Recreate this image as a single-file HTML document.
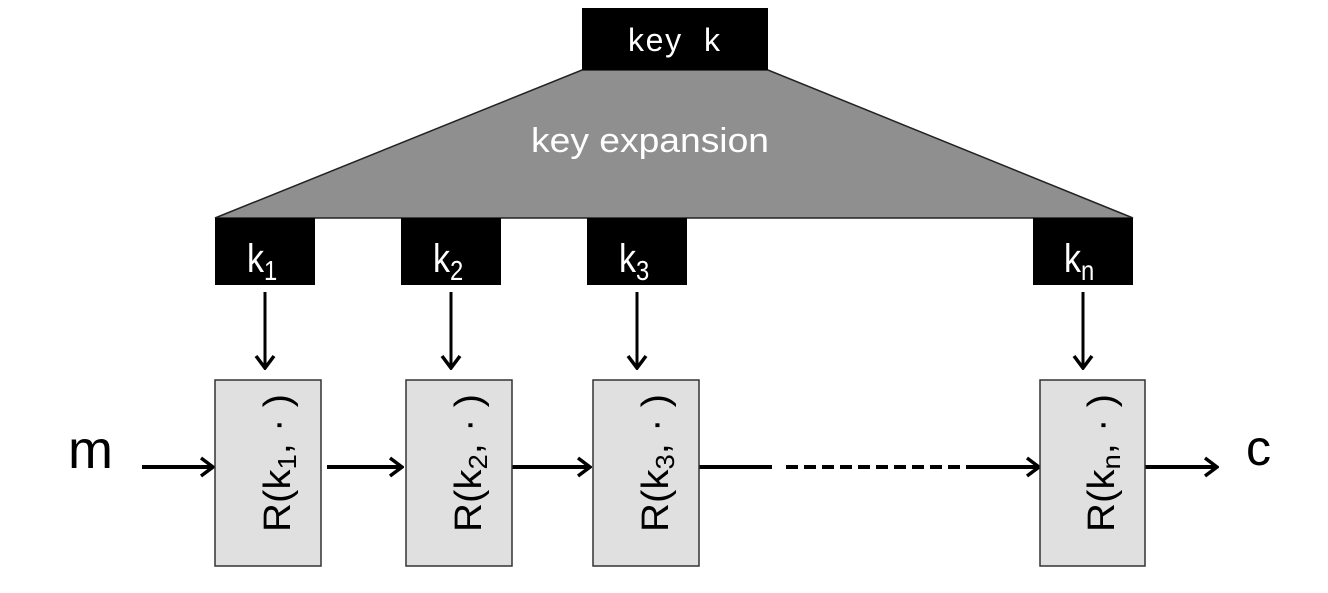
<!DOCTYPE html>
<html><head><style>body{margin:0;background:#fff}</style></head><body>
<svg width="1328" height="588" xmlns="http://www.w3.org/2000/svg" font-family="Liberation Sans, Arial, sans-serif">
<defs><marker id="a" markerWidth="16" markerHeight="22" refX="14" refY="11" orient="auto" markerUnits="userSpaceOnUse"><path d="M2,2 L14,11 L2,20" fill="none" stroke="#000" stroke-width="3.5"/></marker></defs>
<polygon points="582,70 768,70 1133,218 215,218" fill="#8f8f8f" stroke="#222" stroke-width="1.5"/>
<rect x="582" y="8" width="186" height="62" fill="#000"/>
<text x="628" y="51" fill="#fff" font-size="32" textLength="92" lengthAdjust="spacing">key&#160;&#160;k</text>
<text x="650" y="152" fill="#fff" font-size="34" text-anchor="middle" textLength="238" lengthAdjust="spacingAndGlyphs">key expansion</text>
<g fill="#000"><rect x="215" y="218" width="100" height="67"/><rect x="401" y="218" width="100" height="67"/><rect x="587" y="218" width="100" height="67"/><rect x="1033" y="218" width="100" height="67"/></g>
<g fill="#fff" font-size="40">
<text transform="translate(247,272) scale(0.85,1)">k<tspan font-size="28" dy="8">1</tspan></text>
<text transform="translate(433,272) scale(0.85,1)">k<tspan font-size="28" dy="8">2</tspan></text>
<text transform="translate(619,272) scale(0.85,1)">k<tspan font-size="28" dy="8">3</tspan></text>
<text transform="translate(1064,272) scale(0.85,1)">k<tspan font-size="28" dy="8">n</tspan></text>
</g>
<g stroke="#000" stroke-width="3" marker-end="url(#a)">
<line x1="265" y1="292" x2="265" y2="368"/><line x1="451" y1="292" x2="451" y2="368"/><line x1="637" y1="292" x2="637" y2="368"/><line x1="1083" y1="292" x2="1083" y2="368"/>
<line x1="142" y1="467" x2="213" y2="467" stroke-width="4"/>
<line x1="327" y1="467" x2="402" y2="467" stroke-width="4"/>
<line x1="512" y1="467" x2="590" y2="467" stroke-width="4"/>
<line x1="972" y1="467" x2="1039" y2="467" stroke-width="4"/>
<line x1="1145" y1="467" x2="1217" y2="467" stroke-width="4"/>
</g>
<line x1="699" y1="467" x2="772" y2="467" stroke="#000" stroke-width="4"/>
<line x1="786" y1="467" x2="972" y2="467" stroke="#000" stroke-width="4" stroke-dasharray="12,6"/>
<g fill="#e0e0e0" stroke="#333" stroke-width="1.5">
<rect x="215" y="380" width="106" height="186"/><rect x="406" y="380" width="106" height="186"/><rect x="593" y="380" width="106" height="186"/><rect x="1040" y="380" width="105" height="186"/>
</g>
<g font-size="38" fill="#000">
<text transform="translate(290,532) rotate(-90)" textLength="138" lengthAdjust="spacingAndGlyphs">R(k<tspan font-size="26" dy="6">1</tspan><tspan dy="-6">, · )</tspan></text>
<text transform="translate(481,532) rotate(-90)" textLength="138" lengthAdjust="spacingAndGlyphs">R(k<tspan font-size="26" dy="6">2</tspan><tspan dy="-6">, · )</tspan></text>
<text transform="translate(668,532) rotate(-90)" textLength="138" lengthAdjust="spacingAndGlyphs">R(k<tspan font-size="26" dy="6">3</tspan><tspan dy="-6">, · )</tspan></text>
<text transform="translate(1114,532) rotate(-90)" textLength="138" lengthAdjust="spacingAndGlyphs">R(k<tspan font-size="26" dy="6">n</tspan><tspan dy="-6">, · )</tspan></text>
</g>
<text x="68" y="468" font-size="54">m</text>
<text x="1246" y="465" font-size="50">c</text>
</svg>
</body></html>
